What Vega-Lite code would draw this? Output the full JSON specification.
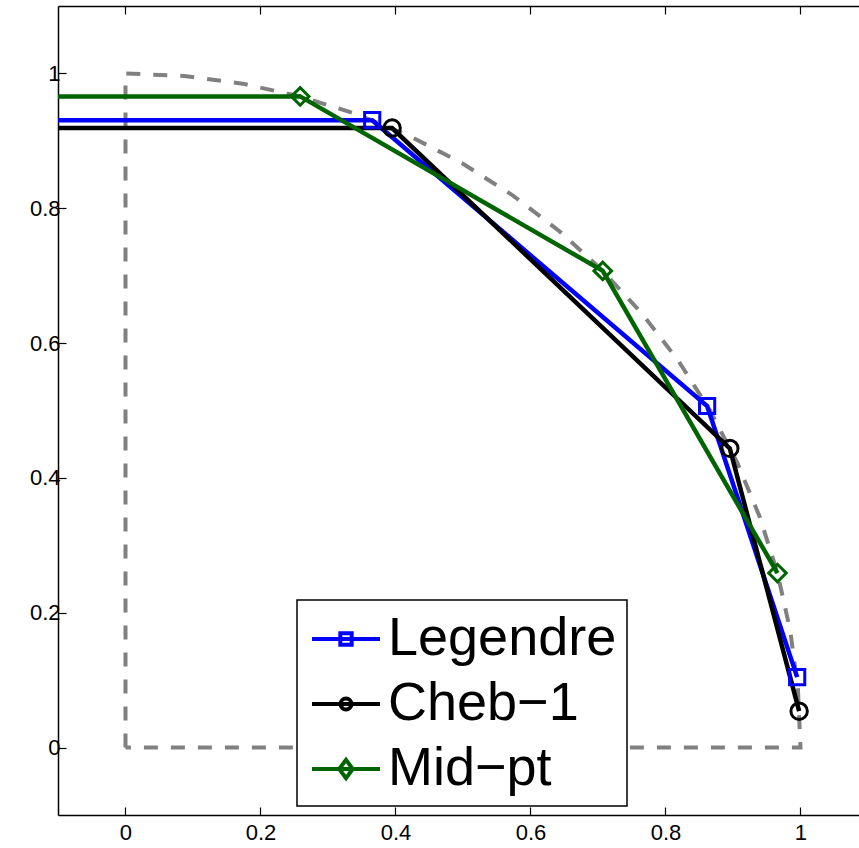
{
  "$schema": "https://vega.github.io/schema/vega-lite/v6.json",
  "autosize": {"type": "none"},
  "width": 801,
  "height": 809,
  "padding": {"left": 58, "top": 6, "right": 0, "bottom": 33},
  "background": "white",
  "datasets": {
    "region": [
      {"k": 0, "x": 0, "y": 0},
      {"k": 1, "x": 0, "y": 1},
      {"k": 2, "x": 0.0872, "y": 0.9962},
      {"k": 3, "x": 0.1736, "y": 0.9848},
      {"k": 4, "x": 0.2588, "y": 0.9659},
      {"k": 5, "x": 0.342, "y": 0.9397},
      {"k": 6, "x": 0.4226, "y": 0.9063},
      {"k": 7, "x": 0.5, "y": 0.866},
      {"k": 8, "x": 0.5736, "y": 0.8192},
      {"k": 9, "x": 0.6428, "y": 0.766},
      {"k": 10, "x": 0.7071, "y": 0.7071},
      {"k": 11, "x": 0.766, "y": 0.6428},
      {"k": 12, "x": 0.8192, "y": 0.5736},
      {"k": 13, "x": 0.866, "y": 0.5},
      {"k": 14, "x": 0.9063, "y": 0.4226},
      {"k": 15, "x": 0.9397, "y": 0.342},
      {"k": 16, "x": 0.9659, "y": 0.2588},
      {"k": 17, "x": 0.9848, "y": 0.1736},
      {"k": 18, "x": 0.9962, "y": 0.0872},
      {"k": 19, "x": 1, "y": 0},
      {"k": 20, "x": 0, "y": 0}
    ],
    "curves": [
      {"series": "Legendre", "x": -0.1, "y": 0.9306, "node": false},
      {"series": "Legendre", "x": 0.3655, "y": 0.9306, "node": true},
      {"series": "Legendre", "x": 0.8617, "y": 0.5067, "node": true},
      {"series": "Legendre", "x": 0.9951, "y": 0.1045, "node": true},
      {"series": "Cheb−1", "x": -0.1, "y": 0.919, "node": false},
      {"series": "Cheb−1", "x": 0.395, "y": 0.919, "node": true},
      {"series": "Cheb−1", "x": 0.8953, "y": 0.4438, "node": true},
      {"series": "Cheb−1", "x": 0.998, "y": 0.054, "node": true},
      {"series": "Mid−pt", "x": -0.1, "y": 0.9659, "node": false},
      {"series": "Mid−pt", "x": 0.2588, "y": 0.9659, "node": true},
      {"series": "Mid−pt", "x": 0.7071, "y": 0.7071, "node": true},
      {"series": "Mid−pt", "x": 0.9659, "y": 0.2588, "node": true}
    ]
  },
  "config": {
    "view": {"stroke": null},
    "axis": {
      "domainColor": "black",
      "domainWidth": 1.5,
      "tickColor": "black",
      "tickWidth": 1.2,
      "tickSize": -8,
      "labelFont": "Liberation Sans",
      "labelFontSize": 22,
      "labelColor": "black",
      "grid": false,
      "title": null
    }
  },
  "resolve": {
    "axis": {"x": "independent"},
    "legend": {"color": "independent", "shape": "independent", "size": "independent"}
  },
  "layer": [
    {
      "data": {"name": "region"},
      "mark": {"type": "line", "stroke": "#808080", "strokeWidth": 4, "strokeDash": [14, 13], "clip": true},
      "encoding": {
        "x": {"field": "x", "type": "quantitative", "scale": {"domain": [-0.1, 1.0867], "nice": false, "zero": false},
              "axis": {"orient": "top", "labels": false, "values": [0, 0.2, 0.4, 0.6, 0.8, 1]}},
        "y": {"field": "y", "type": "quantitative", "scale": {"domain": [-0.1, 1.1], "nice": false, "zero": false},
              "axis": {"orient": "left", "values": [0, 0.2, 0.4, 0.6, 0.8, 1], "format": "~g", "labelPadding": 6}},
        "order": {"field": "k", "type": "quantitative"}
      }
    },
    {
      "data": {"name": "curves"},
      "mark": {"type": "line", "strokeWidth": 4.5, "clip": true},
      "encoding": {
        "x": {"field": "x", "type": "quantitative",
              "axis": {"orient": "bottom", "values": [0, 0.2, 0.4, 0.6, 0.8, 1], "format": "~g", "labelPadding": 15}},
        "y": {"field": "y", "type": "quantitative",
              "axis": {"orient": "left", "values": [0, 0.2, 0.4, 0.6, 0.8, 1], "format": "~g", "labelPadding": 6}},
        "color": {
          "field": "series", "type": "nominal",
          "scale": {"domain": ["Legendre", "Cheb−1", "Mid−pt"], "range": ["#0000ff", "#000000", "#006400"]},
          "legend": {
            "orient": "none", "legendX": 239, "legendY": 594, "title": null,
            "strokeColor": "black", "fillColor": "white", "padding": 10,
            "labelFontSize": 54, "labelFont": "Liberation Sans", "labelColor": "black",
            "labelLimit": 500, "labelOffset": 13, "rowPadding": 9,
            "symbolSize": 2916, "symbolStrokeWidth": 4, "symbolOffset": 10, "symbolType": "M-1,0H1",
            "encode": {
              "legend": {"update": {"strokeWidth": {"value": 1.5}}},
              "symbols": {"update": {
                "fill": {"value": "transparent"},
                "shape": {"signal": "datum.value === 'Legendre' ? 'M-1.26,0H1.26M-0.21,-0.21H0.21V0.21H-0.21Z' : datum.value === 'Mid−pt' ? 'M-1.26,0H1.26M0,-0.34L0.25,0L0,0.34L-0.25,0Z' : 'M-1.26,0H1.26M-0.2,0A0.2,0.2 0 1,0 0.2,0A0.2,0.2 0 1,0 -0.2,0Z'"}
              }}
            }
          }
        }
      }
    },
    {
      "data": {"name": "curves"},
      "transform": [{"filter": "datum.node"}],
      "mark": {"type": "point", "filled": false, "strokeWidth": 3, "opacity": 1, "clip": true},
      "encoding": {
        "x": {"field": "x", "type": "quantitative", "axis": null},
        "y": {"field": "y", "type": "quantitative",
              "axis": {"orient": "left", "values": [0, 0.2, 0.4, 0.6, 0.8, 1], "format": "~g", "labelPadding": 6}},
        "color": {"field": "series", "type": "nominal", "legend": null},
        "shape": {"field": "series", "type": "nominal",
                  "scale": {"domain": ["Legendre", "Cheb−1", "Mid−pt"], "range": ["square", "circle", "diamond"]},
                  "legend": null},
        "size": {"field": "series", "type": "nominal",
                 "scale": {"domain": ["Legendre", "Cheb−1", "Mid−pt"], "range": [230, 310, 360]},
                 "legend": null}
      }
    }
  ]
}
